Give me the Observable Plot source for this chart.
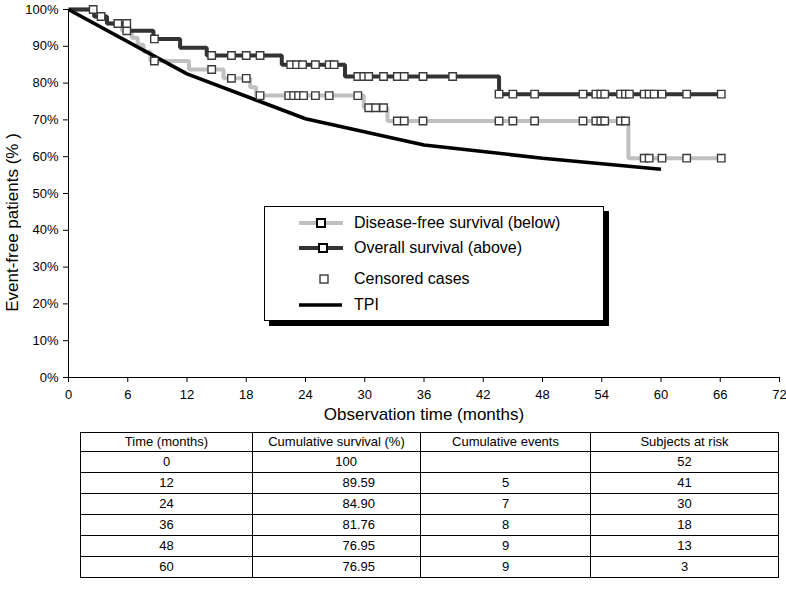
<!DOCTYPE html>
<html>
<head>
<meta charset="utf-8">
<script src="https://cdn.jsdelivr.net/npm/d3@7"></script>
<script src="https://cdn.jsdelivr.net/npm/@observablehq/plot@0.6"></script>
<style>
  html, body { margin: 0; padding: 0; background: #fff; }
  body { font-family: "Liberation Sans", Arial, Helvetica, sans-serif; }
  #wrap { position: relative; width: 786px; height: 593px; overflow: hidden; background: #fff; }
  #chart { position: absolute; left: 0; top: 0; }
  #legend { position: absolute; left: 264px; top: 206px; width: 338px; height: 113px;
            border: 1.5px solid #000; background: #fff; box-shadow: 5px 5px 0 #000; }
  .lg-row { position: absolute; left: 0; height: 20px; width: 100%; }
  .lg-row svg { position: absolute; left: 34px; top: 0; }
  .lg-row span { position: absolute; left: 89px; top: 0; line-height: 20px; font-size: 16px; color: #000; white-space: nowrap; }
  #tbl { position: absolute; left: 80px; top: 432px; width: 698px; border-collapse: collapse;
         font-size: 13px; color: #000; table-layout: fixed; }
  #tbl td { border: 1px solid #000; padding: 0; text-align: center; height: 20px; line-height: 18px; }
  #tbl tr.hd td { height: 18px; }
  .ip { display: inline-block; width: 104px; text-align: right; }
  .fp { display: inline-block; width: 60px; text-align: left; }
</style>
</head>
<body>
<div id="wrap"><div id="chart"></div><div id="legend"></div></div>
<script>
// ---- data ----
const osTime  = [0, 2.6, 3.9, 6.1, 8.6, 11.3, 14.0, 21.6, 28.0, 43.6, 66.1];
const osSurv  = [100, 98.1, 96.2, 94.2, 92.0, 89.6, 87.5, 85.0, 81.8, 77.0, 77.0];
const dfsTime = [0, 2.6, 3.9, 5.4, 6.4, 7.0, 7.6, 8.3, 12.2, 15.7, 18.4, 19.0, 29.9, 32.3, 56.7, 66.1];
const dfsSurv = [100, 98.1, 96.2, 94.2, 92.3, 90.4, 88.5, 86.0, 83.7, 81.3, 78.9, 76.6, 73.3, 69.7, 59.6, 59.6];
const tpiTime = [0, 12, 24, 36, 48, 60];
const tpiRate = [100, 82.5, 70.3, 63.2, 59.6, 56.6];
const osCensored  = [2.5, 3.3, 5.0, 5.9, 8.7, 14.5, 16.5, 18.0, 19.4, 22.5, 23.1, 23.7, 25.0, 26.4, 26.9,
                     29.3, 29.9, 30.4, 31.9, 33.3, 34.0, 35.9, 38.9, 43.6, 45.0, 47.2, 52.1, 53.4, 53.9,
                     54.3, 55.9, 56.4, 56.8, 58.3, 58.8, 59.3, 60.1, 62.6, 66.1];
const dfsCensored = [5.9, 8.7, 14.5, 16.5, 18.0, 19.4, 22.3, 22.8, 23.3, 23.8, 25.0, 26.4, 29.3, 30.4,
                     31.1, 31.9, 33.3, 34.0, 35.9, 43.6, 45.0, 47.2, 52.1, 53.4, 53.9, 54.3, 55.9, 56.4,
                     58.3, 58.8, 60.1, 62.6, 66.1];
const xTicks = [0, 6, 12, 18, 24, 30, 36, 42, 48, 54, 60, 66, 72];
const yTicks = [0, 10, 20, 30, 40, 50, 60, 70, 80, 90, 100];
const legendLabels = ["Disease-free survival (below)", "Overall survival (above)", "Censored cases", "TPI"];
const tableHeaders = ["Time (months)", "Cumulative survival (%)", "Cumulative events", "Subjects at risk"];
const tableTime   = [0, 12, 24, 36, 48, 60];
const tableSurv   = ["100", "89.59", "84.90", "81.76", "76.95", "76.95"];
const tableEvents = ["", "5", "7", "8", "9", "9"];
const tableRisk   = ["52", "41", "30", "18", "13", "3"];

// ---- build tables for the marks ----
const zip = (a, b) => a.map((t, i) => ({t, s: b[i]}));
const stepAt = (times, vals, t) => { let v = vals[0]; times.forEach((x, i) => { if (x <= t) v = vals[i]; }); return v; };
const os  = zip(osTime, osSurv);
const dfs = zip(dfsTime, dfsSurv);
const tpi = zip(tpiTime, tpiRate);
const osC  = osCensored.map(t => ({t, s: stepAt(osTime, osSurv, t)}));
const dfsC = dfsCensored.map(t => ({t, s: stepAt(dfsTime, dfsSurv, t)}));

const FONT = '"Liberation Sans", Arial, Helvetica, sans-serif';
const sq = {x: "t", y: "s", symbol: "square", r: 4.2, fill: "#fff", stroke: "#3a3a3a", strokeWidth: 1.4};
const ln = {x: "t", y: "s", strokeLinejoin: "miter", strokeLinecap: "butt"};

const chart = Plot.plot({
  width: 786, height: 430,
  marginLeft: 68, marginRight: 7, marginTop: 9, marginBottom: 53,
  style: {fontFamily: FONT, fontSize: "13px", color: "#000", background: "transparent", overflow: "visible"},
  x: {domain: [0, 72], ticks: xTicks, tickSize: 5, tickPadding: 7, tickFormat: d => String(d), label: null},
  y: {domain: [0, 100], ticks: yTicks, tickSize: 5, tickPadding: 5, tickFormat: d => d + "%", label: null},
  marks: [
    Plot.line(dfs, {...ln, curve: "step-after", stroke: "#c0c0c0", strokeWidth: 4}),
    Plot.line(os,  {...ln, curve: "step-after", stroke: "#333", strokeWidth: 4}),
    Plot.line(tpi, {...ln, stroke: "#000", strokeWidth: 3.6}),
    Plot.dot(dfsC, sq),
    Plot.dot(osC, sq),
    Plot.ruleX([0], {stroke: "#000", strokeWidth: 1}),
    Plot.ruleY([0], {stroke: "#000", strokeWidth: 1}),
    Plot.text(["Event-free patients (% )"], {frameAnchor: "left", textAnchor: "middle", lineAnchor: "middle",
      rotate: -90, dx: -56, dy: 29, fontSize: 17, fill: "#000"}),
    Plot.text(["Observation time (months)"], {frameAnchor: "bottom", textAnchor: "middle", lineAnchor: "middle",
      dy: 37, fontSize: 17, fill: "#000"})
  ]
});
document.getElementById("chart").appendChild(chart);

// ---- legend (overlay inside the plot area) ----
const legend = document.getElementById("legend");
const rowTops = [6, 31, 62, 88];
const swatch = [
  `<svg width="46" height="20"><line x1="0" x2="44" y1="10" y2="10" stroke="#c0c0c0" stroke-width="4"/><rect x="18" y="6" width="8" height="8" fill="#fff" stroke="#000" stroke-width="2"/></svg>`,
  `<svg width="46" height="20"><line x1="0" x2="44" y1="10" y2="10" stroke="#333" stroke-width="4"/><rect x="20" y="6" width="8" height="8" fill="#fff" stroke="#000" stroke-width="2"/></svg>`,
  `<svg width="46" height="20"><rect x="21" y="6" width="8" height="8" fill="#fff" stroke="#3a3a3a" stroke-width="1.4"/></svg>`,
  `<svg width="46" height="20"><line x1="0" x2="43" y1="10" y2="10" stroke="#000" stroke-width="3.6"/></svg>`
];
legendLabels.forEach((lab, i) => {
  const r = document.createElement("div");
  r.className = "lg-row";
  r.style.top = rowTops[i] + "px";
  r.innerHTML = swatch[i];
  const s = document.createElement("span");
  s.textContent = lab;
  r.appendChild(s);
  legend.appendChild(r);
});

// ---- table below the chart ----
const tbl = document.createElement("table");
tbl.id = "tbl";
const colW = [172, 168, 170, 188];
const cg = document.createElement("colgroup");
colW.forEach(w => { const c = document.createElement("col"); c.style.width = w + "px"; cg.appendChild(c); });
tbl.appendChild(cg);
const hr = document.createElement("tr"); hr.className = "hd";
tableHeaders.forEach(h => { const td = document.createElement("td"); td.textContent = h; hr.appendChild(td); });
tbl.appendChild(hr);
tableTime.forEach((t, i) => {
  const tr = document.createElement("tr");
  const c1 = document.createElement("td"); c1.textContent = t; tr.appendChild(c1);
  const c2 = document.createElement("td"); c2.style.textAlign = "left";
  const parts = tableSurv[i].split(".");
  const ip = document.createElement("span"); ip.className = "ip"; ip.textContent = parts[0];
  const fp = document.createElement("span"); fp.className = "fp"; fp.textContent = parts.length > 1 ? "." + parts[1] : "";
  c2.appendChild(ip); c2.appendChild(fp); tr.appendChild(c2);
  const c3 = document.createElement("td"); c3.textContent = tableEvents[i]; tr.appendChild(c3);
  const c4 = document.createElement("td"); c4.textContent = tableRisk[i]; tr.appendChild(c4);
  tbl.appendChild(tr);
});
document.getElementById("wrap").appendChild(tbl);
</script>
</body>
</html>
